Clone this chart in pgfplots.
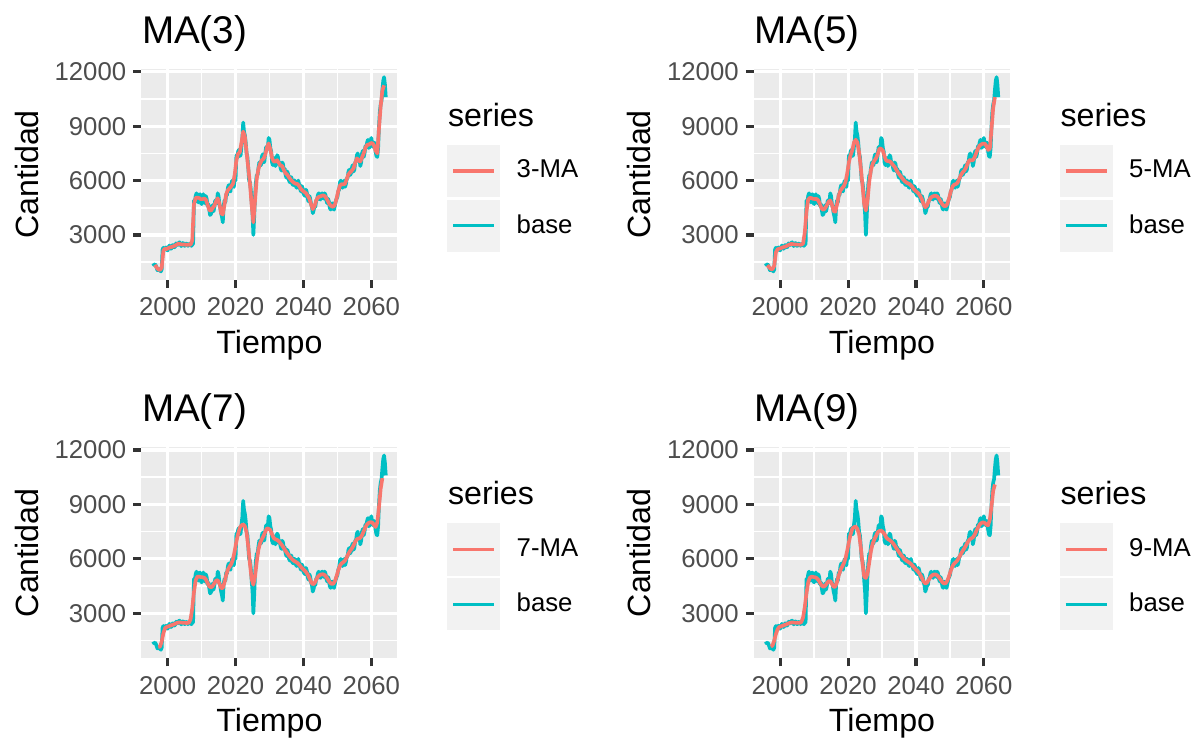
\documentclass[border=0pt]{standalone}
\usepackage{pgfplots}
\usepackage{pgfplotstable}
\pgfplotsset{compat=1.18}
\usepackage{fontspec}
\setmainfont{Liberation Sans}

\definecolor{panelbg}{HTML}{EBEBEB}
\definecolor{keybg}{HTML}{F2F2F2}
\definecolor{basecol}{HTML}{00BFC4}
\definecolor{macol}{HTML}{F8766D}
\definecolor{tickgrey}{HTML}{333333}
\definecolor{labelgrey}{HTML}{4D4D4D}

% base series (Tiempo, Cantidad)
\pgfplotstableread{
t v
1995.75 1440
1996.00 1350
1996.25 1380
1996.50 1330
1996.75 1200
1997.00 1060
1997.25 1080
1997.50 1120
1997.75 1050
1998.00 990
1998.25 1100
1998.50 2200
1998.75 2300
1999.00 2180
1999.25 2250
1999.50 2320
1999.75 2180
2000.00 2150
2000.25 2300
2000.50 2420
2000.75 2350
2001.00 2240
2001.25 2300
2001.50 2450
2001.75 2420
2002.00 2320
2002.25 2380
2002.50 2540
2002.75 2500
2003.00 2450
2003.25 2560
2003.50 2600
2003.75 2480
2004.00 2390
2004.25 2450
2004.50 2560
2004.75 2520
2005.00 2400
2005.25 2430
2005.50 2530
2005.75 2480
2006.00 2400
2006.25 2470
2006.50 2520
2006.75 2450
2007.00 2400
2007.25 2480
2007.50 2500
2007.75 4900
2008.00 4800
2008.25 5150
2008.50 5300
2008.75 4950
2009.00 4800
2009.25 5200
2009.50 5250
2009.75 4800
2010.00 4700
2010.25 5100
2010.50 5250
2010.75 4900
2011.00 4750
2011.25 5150
2011.50 5000
2011.75 4600
2012.00 4700
2012.25 4400
2012.50 4100
2012.75 4150
2013.00 4350
2013.25 4650
2013.50 4300
2013.75 4500
2014.00 4900
2014.25 4800
2014.50 4750
2014.75 5300
2015.00 5150
2015.25 4700
2015.50 4500
2015.75 4200
2016.00 4000
2016.25 3700
2016.50 4600
2016.75 4900
2017.00 4800
2017.25 5250
2017.50 5200
2017.75 5600
2018.00 5750
2018.25 5450
2018.50 5400
2018.75 5800
2019.00 6000
2019.25 5700
2019.50 5650
2019.75 6100
2020.00 6000
2020.25 7400
2020.50 7250
2020.75 7600
2021.00 7700
2021.25 7350
2021.50 7400
2021.75 7900
2022.00 8300
2022.25 9200
2022.50 8700
2022.75 8500
2023.00 8100
2023.25 7500
2023.50 7300
2023.75 6700
2024.00 6000
2024.25 5900
2024.50 5500
2024.75 4800
2025.00 4200
2025.25 3000
2025.50 4000
2025.75 5200
2026.00 5900
2026.25 6300
2026.50 6300
2026.75 6700
2027.00 7000
2027.25 6900
2027.50 6850
2027.75 7300
2028.00 7450
2028.25 7000
2028.50 7050
2028.75 7500
2029.00 7850
2029.25 7700
2029.50 7800
2029.75 8350
2030.00 8250
2030.25 7800
2030.50 7600
2030.75 7000
2031.00 6850
2031.25 7200
2031.50 7250
2031.75 6800
2032.00 6950
2032.25 7400
2032.50 7300
2032.75 6900
2033.00 7000
2033.25 6700
2033.50 6550
2033.75 7000
2034.00 6900
2034.25 6500
2034.50 6650
2034.75 6300
2035.00 6150
2035.25 6500
2035.50 6350
2035.75 6000
2036.00 5900
2036.25 6200
2036.50 6150
2036.75 5800
2037.00 5750
2037.25 6000
2037.50 6000
2037.75 5700
2038.00 5600
2038.25 5900
2038.50 6000
2038.75 5750
2039.00 5550
2039.25 5400
2039.50 5700
2039.75 5600
2040.00 5300
2040.25 5200
2040.50 5150
2040.75 5500
2041.00 5350
2041.25 5000
2041.50 4850
2041.75 5150
2042.00 5000
2042.25 4700
2042.50 4550
2042.75 4200
2043.00 4350
2043.25 4600
2043.50 4550
2043.75 4900
2044.00 4950
2044.25 5200
2044.50 5300
2044.75 5000
2045.00 4950
2045.25 5250
2045.50 5300
2045.75 5100
2046.00 5000
2046.25 5300
2046.50 5200
2046.75 4900
2047.00 4750
2047.25 5000
2047.50 4850
2047.75 4500
2048.00 4400
2048.25 4700
2048.50 4750
2048.75 4450
2049.00 4400
2049.25 4600
2049.50 4850
2049.75 5000
2050.00 5100
2050.25 5400
2050.50 5500
2050.75 5900
2051.00 6000
2051.25 5700
2051.50 5600
2051.75 5900
2052.00 6000
2052.25 5650
2052.50 5800
2052.75 6100
2053.00 6150
2053.25 6500
2053.50 6600
2053.75 6300
2054.00 6400
2054.25 6700
2054.50 6850
2054.75 6500
2055.00 6600
2055.25 7000
2055.50 7050
2055.75 7400
2056.00 7500
2056.25 7100
2056.50 7200
2056.75 6800
2057.00 7000
2057.25 7500
2057.50 7650
2057.75 7300
2058.00 7500
2058.25 7900
2058.50 7800
2058.75 8100
2059.00 8250
2059.25 7800
2059.50 7850
2059.75 8200
2060.00 8350
2060.25 8000
2060.50 7850
2060.75 8100
2061.00 8050
2061.25 7600
2061.50 7350
2061.75 7300
2062.00 7800
2062.25 9000
2062.50 9800
2062.75 10200
2063.00 10400
2063.25 11000
2063.50 11500
2063.75 11700
2064.00 11300
2064.25 10600
}\basedata

% 3-MA
\pgfplotstableread{
t v
1996.25 1350
1996.75 1215
1997.25 1103
1997.75 1070
1998.25 1200
1998.75 2150
1999.25 2245
1999.75 2228
2000.25 2283
2000.75 2325
2001.25 2343
2001.75 2380
2002.25 2420
2002.75 2485
2003.25 2525
2003.75 2493
2004.25 2475
2004.75 2480
2005.25 2465
2005.75 2465
2006.25 2468
2006.75 2463
2007.25 2700
2007.75 4700
2008.25 5038
2008.75 5063
2009.25 5038
2009.75 4975
2010.25 4975
2010.75 5013
2011.25 4950
2011.75 4688
2012.25 4388
2012.75 4338
2013.25 4488
2013.75 4613
2014.25 4850
2014.75 5025
2015.25 4725
2015.75 4200
2016.25 4125
2016.75 4688
2017.25 5250
2017.75 5475
2018.25 5575
2018.75 5688
2019.25 5825
2019.75 6325
2020.25 7125
2020.75 7488
2021.25 7550
2021.75 8088
2022.25 8700
2022.75 8425
2023.25 7550
2023.75 6700
2024.25 5825
2024.75 4625
2025.25 3700
2025.75 4925
2026.25 6125
2026.75 6650
2027.25 6950
2027.75 7125
2028.25 7200
2028.75 7425
2029.25 7813
2029.75 8050
2030.25 7738
2030.75 7250
2031.25 7050
2031.75 7050
2032.25 7125
2032.75 6975
2033.25 6825
2033.75 6800
2034.25 6575
2034.75 6400
2035.25 6325
2035.75 6175
2036.25 6050
2036.75 5950
2037.25 5875
2037.75 5825
2038.25 5813
2038.75 5700
2039.25 5538
2039.75 5450
2040.25 5375
2040.75 5300
2041.25 5163
2041.75 5000
2042.25 4688
2042.75 4425
2043.25 4575
2043.75 4900
2044.25 5075
2044.75 5113
2045.25 5150
2045.75 5188
2046.25 5150
2046.75 5025
2047.25 4850
2047.75 4675
2048.25 4588
2048.75 4550
2049.25 4663
2049.75 5000
2050.25 5425
2050.75 5725
2051.25 5800
2051.75 5788
2052.25 5825
2052.75 6088
2053.25 6350
2053.75 6450
2054.25 6550
2054.75 6675
2055.25 6975
2055.75 7225
2056.25 7100
2056.75 7050
2057.25 7275
2057.75 7500
2058.25 7800
2058.75 7975
2059.25 7975
2059.75 8050
2060.25 8075
2060.75 7950
2061.25 7650
2061.75 7500
2062.25 8875
2062.75 10100
2063.25 10975
2063.75 11250
}\mathree

% 5-MA
\pgfplotstableread{
t v
1996.25 1330
1996.75 1221
1997.25 1123
1997.75 1111
1998.25 1300
1998.75 2050
1999.25 2217
1999.75 2246
2000.25 2280
2000.75 2319
2001.25 2348
2001.75 2381
2002.25 2426
2002.75 2479
2003.25 2507
2003.75 2497
2004.25 2481
2004.75 2475
2005.25 2469
2005.75 2466
2006.25 2466
2006.75 2524
2007.25 3141
2007.75 4285
2008.25 4960
2008.75 5050
2009.25 5029
2009.75 4991
2010.25 4985
2010.75 4988
2011.25 4900
2011.75 4679
2012.25 4451
2012.75 4388
2013.25 4482
2013.75 4641
2014.25 4835
2014.75 4906
2015.25 4669
2015.75 4313
2016.25 4285
2016.75 4688
2017.25 5166
2017.75 5444
2018.25 5578
2018.75 5694
2019.25 5916
2019.75 6400
2020.25 7016
2020.75 7413
2021.25 7669
2021.75 8107
2022.25 8250
2022.75 8100
2023.25 7556
2023.75 6694
2024.25 5744
2024.75 4694
2025.25 4350
2025.75 4919
2026.25 5956
2026.75 6594
2027.25 6919
2027.75 7100
2028.25 7238
2028.75 7466
2029.25 7775
2029.75 7750
2030.25 7650
2030.75 7322
2031.25 7100
2031.75 7069
2032.25 7069
2032.75 6975
2033.25 6856
2033.75 6750
2034.25 6588
2034.75 6425
2035.25 6306
2035.75 6181
2036.25 6056
2036.75 5956
2037.25 5881
2037.75 5835
2038.25 5788
2038.75 5688
2039.25 5557
2039.75 5453
2040.25 5375
2040.75 5285
2041.25 5157
2041.75 4963
2042.25 4700
2042.75 4528
2043.25 4619
2043.75 4863
2044.25 5041
2044.75 5113
2045.25 5150
2045.75 5169
2046.25 5128
2046.75 5013
2047.25 4850
2047.75 4697
2048.25 4600
2048.75 4588
2049.25 4719
2049.75 5022
2050.25 5394
2050.75 5669
2051.25 5778
2051.75 5800
2052.25 5882
2052.75 6088
2053.25 6310
2053.75 6450
2054.25 6556
2054.75 6719
2055.25 6963
2055.75 7131
2056.25 7119
2056.75 7119
2057.25 7275
2057.75 7519
2058.25 7769
2058.75 7931
2059.25 7994
2059.75 8038
2060.25 8038
2060.75 7906
2061.25 7688
2061.75 7750
2062.25 8838
2062.75 10013
2063.25 10600
}\mafive

% 7-MA
\pgfplotstableread{
t v
1997.25 1145
1997.75 1161
1998.25 1440
1998.75 1904
1999.25 2183
1999.75 2247
2000.25 2281
2000.75 2317
2001.25 2349
2001.75 2384
2002.25 2428
2002.75 2473
2003.25 2498
2003.75 2496
2004.25 2484
2004.75 2475
2005.25 2470
2005.75 2467
2006.25 2481
2006.75 2664
2007.25 3273
2007.75 4168
2008.25 4814
2008.75 5022
2009.25 5025
2009.75 4999
2010.25 4987
2010.75 4965
2011.25 4867
2011.75 4677
2012.25 4492
2012.75 4427
2013.25 4498
2013.75 4650
2014.25 4804
2014.75 4829
2015.25 4639
2015.75 4395
2016.25 4393
2016.75 4707
2017.25 5116
2017.75 5408
2018.25 5574
2018.75 5721
2019.25 5982
2019.75 6433
2020.25 6961
2020.75 7378
2021.25 7715
2021.75 7850
2022.25 7900
2022.75 7800
2023.25 7477
2023.75 6672
2024.25 5719
2024.75 4871
2025.25 4578
2025.75 5036
2026.25 5856
2026.75 6516
2027.25 6883
2027.75 7089
2028.25 7261
2028.75 7486
2029.25 7692
2029.75 7650
2030.25 7593
2030.75 7349
2031.25 7148
2031.75 7077
2032.25 7046
2032.75 6969
2033.25 6859
2033.75 6736
2034.25 6588
2034.75 6436
2035.25 6305
2035.75 6181
2036.25 6062
2036.75 5962
2037.25 5888
2037.75 5835
2038.25 5775
2038.75 5680
2039.25 5564
2039.75 5460
2040.25 5372
2040.75 5276
2041.25 5141
2041.75 4946
2042.25 4723
2042.75 4594
2043.25 4657
2043.75 4847
2044.25 5015
2044.75 5104
2045.25 5146
2045.75 5154
2046.25 5110
2046.75 5001
2047.25 4853
2047.75 4711
2048.25 4621
2048.75 4624
2049.25 4762
2049.75 5039
2050.25 5370
2050.75 5628
2051.25 5756
2051.75 5815
2052.25 5913
2052.75 6092
2053.25 6290
2053.75 6442
2054.25 6570
2054.75 6739
2055.25 6944
2055.75 7086
2056.25 7122
2056.75 7158
2057.25 7297
2057.75 7521
2058.25 7747
2058.75 7906
2059.25 7989
2059.75 8027
2060.25 8005
2060.75 7885
2061.25 7758
2061.75 8007
2062.25 8860
2062.75 9866
2063.25 10450
}\maseven

% 9-MA
\pgfplotstableread{
t v
1997.25 1160
1997.75 1227
1998.25 1486
1998.75 1858
1999.25 2129
1999.75 2240
2000.25 2282
2000.75 2316
2001.25 2350
2001.75 2386
2002.25 2428
2002.75 2468
2003.25 2491
2003.75 2494
2004.25 2485
2004.75 2476
2005.25 2471
2005.75 2471
2006.25 2523
2006.75 2771
2007.25 3345
2007.75 4106
2008.25 4705
2008.75 4971
2009.25 5018
2009.75 5003
2010.25 4985
2010.75 4946
2011.25 4844
2011.75 4678
2012.25 4522
2012.75 4461
2013.25 4518
2013.75 4651
2014.25 4772
2014.75 4775
2015.25 4626
2015.75 4456
2016.25 4472
2016.75 4731
2017.25 5087
2017.75 5377
2018.25 5569
2018.75 5750
2019.25 6030
2019.75 6452
2020.25 6933
2020.75 7358
2021.25 7665
2021.75 7750
2022.25 7780
2022.75 7650
2023.25 7357
2023.75 6635
2024.25 5745
2024.75 5010
2025.25 4950
2025.75 5200
2026.25 5816
2026.75 6443
2027.25 6843
2027.75 7081
2028.25 7274
2028.75 7481
2029.25 7540
2029.75 7560
2030.25 7480
2030.75 7360
2031.25 7181
2031.75 7087
2032.25 7035
2032.75 6961
2033.25 6856
2033.75 6730
2034.25 6587
2034.75 6441
2035.25 6307
2035.75 6182
2036.25 6067
2036.75 5969
2037.25 5893
2037.75 5833
2038.25 5766
2038.75 5675
2039.25 5567
2039.75 5464
2040.25 5370
2040.75 5266
2041.25 5126
2041.75 4939
2042.25 4747
2042.75 4642
2043.25 4689
2043.75 4842
2044.25 4995
2044.75 5092
2045.25 5138
2045.75 5141
2046.25 5094
2046.75 4991
2047.25 4855
2047.75 4724
2048.25 4644
2048.75 4658
2049.25 4797
2049.75 5053
2050.25 5352
2050.75 5596
2051.25 5739
2051.75 5825
2052.25 5933
2052.75 6097
2053.25 6279
2053.75 6436
2054.25 6580
2054.75 6748
2055.25 6928
2055.75 7060
2056.25 7122
2056.75 7184
2057.25 7318
2057.75 7522
2058.25 7730
2058.75 7887
2059.25 7978
2059.75 8012
2060.25 7981
2060.75 7883
2061.25 7852
2061.75 8158
2062.25 8898
2062.75 9761
2063.25 10100
}\manine

\pgfplotsset{
  ggpanel/.style={
    scale only axis,
    width=87.55pt, height=72.16pt,
    anchor=south west,
    xmin=1992.3, xmax=2067.7,
    ymin=520, ymax=12150,
    axis background/.style={fill=panelbg},
    axis line style={draw=none},
    grid=both,
    major grid style={white, line width=1.07pt},
    minor grid style={white, line width=0.53pt},
    xtick={2000,2020,2040,2060},
    minor xtick={2010,2030,2050},
    ytick={3000,6000,9000,12000},
    minor ytick={1500,4500,7500,10500},
    scaled x ticks=false, scaled y ticks=false,
    tick pos=left,
    tick align=outside,
    major tick length=2.75pt,
    minor tick length=0pt,
    tick style={color=tickgrey, line width=1.07pt, line cap=butt},
    /pgf/number format/.cd, 1000 sep={}, assume math mode=true, /pgfplots/.cd,
    every x tick label/.style={anchor=north, inner sep=0pt, text=labelgrey,
      font=\fontsize{8.8}{10.5}\selectfont},
    every y tick label/.style={anchor=east, inner sep=0pt, text=labelgrey,
      font=\fontsize{8.8}{10.5}\selectfont},
    xticklabel shift=3.2pt,
    yticklabel shift=2.3pt,
    every axis title/.style={at={(axis description cs:0,1.1232)}, anchor=base west,
      inner sep=0pt, font=\fontsize{13.2}{15.8}\selectfont},
    every axis x label/.style={at={(axis description cs:0.5,-0.3474)}, anchor=base,
      inner sep=0pt, font=\fontsize{11}{13.2}\selectfont},
    every axis y label/.style={at={(axis description cs:-0.449,0.5)}, rotate=90,
      anchor=center, inner sep=0pt, font=\fontsize{11}{13.2}\selectfont},
    xlabel={Tiempo}, ylabel={Cantidad},
    legend cell align=left,
    legend style={at={(1,0.5)}, anchor=west, xshift=17.1pt, yshift=-8.2pt,
      draw=none, fill=none, inner sep=0pt, outer sep=0pt, row sep=0.8pt,
      font=\fontsize{8.8}{10.5}\selectfont, nodes={inner sep=2pt},
      /tikz/every odd column/.append style={column sep=3.7pt},
      label={[anchor=base west, inner sep=0pt, yshift=6.2pt,
        font=\fontsize{11}{13.2}\selectfont]north west:series}},
    legend image code/.code={
      \fill[keybg] (0pt,-8.45pt) rectangle (16.9pt,8.45pt);
      \draw[line width=1.07pt, line cap=butt] (1.4pt,0pt) -- (15.4pt,0pt);
    },
  },
  ggline/.style={line width=1.25pt, line join=round, forget plot},
}

\begin{document}
\begin{tikzpicture}
\path[use as bounding box] (0pt,0pt) rectangle (408pt,-253.1pt);

\begin{axis}[ggpanel, at={(48.39pt,-95.76pt)}, title={MA(3)}]
  \addlegendimage{macol, line width=1.07pt}\addlegendentry{3-MA}
  \addlegendimage{basecol, line width=1.07pt}\addlegendentry{base}
  \addplot[basecol, ggline] table[x=t, y=v] {\basedata};
  \addplot[macol, ggline] table[x=t, y=v] {\mathree};
\end{axis}

\begin{axis}[ggpanel, at={(257.87pt,-95.76pt)}, title={MA(5)}]
  \addlegendimage{macol, line width=1.07pt}\addlegendentry{5-MA}
  \addlegendimage{basecol, line width=1.07pt}\addlegendentry{base}
  \addplot[basecol, ggline] table[x=t, y=v] {\basedata};
  \addplot[macol, ggline] table[x=t, y=v] {\mafive};
\end{axis}

\begin{axis}[ggpanel, at={(48.39pt,-225.14pt)}, title={MA(7)}]
  \addlegendimage{macol, line width=1.07pt}\addlegendentry{7-MA}
  \addlegendimage{basecol, line width=1.07pt}\addlegendentry{base}
  \addplot[basecol, ggline] table[x=t, y=v] {\basedata};
  \addplot[macol, ggline] table[x=t, y=v] {\maseven};
\end{axis}

\begin{axis}[ggpanel, at={(257.87pt,-225.14pt)}, title={MA(9)}]
  \addlegendimage{macol, line width=1.07pt}\addlegendentry{9-MA}
  \addlegendimage{basecol, line width=1.07pt}\addlegendentry{base}
  \addplot[basecol, ggline] table[x=t, y=v] {\basedata};
  \addplot[macol, ggline] table[x=t, y=v] {\manine};
\end{axis}
\end{tikzpicture}
\end{document}
